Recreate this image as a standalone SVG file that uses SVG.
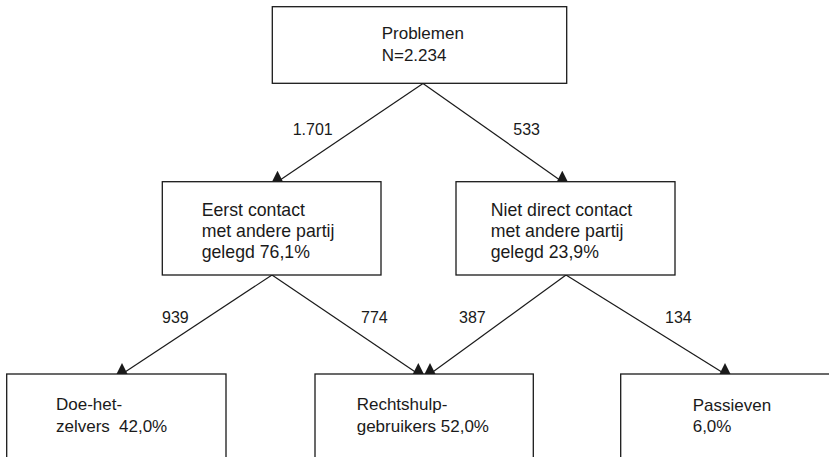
<svg xmlns="http://www.w3.org/2000/svg" width="829" height="457" viewBox="0 0 829 457">
  <style>
    .box { fill: #ffffff; stroke: #1a1a1a; stroke-width: 1.3; }
    .t { font-family: "Liberation Sans", Arial, sans-serif; fill: #1a1a1a; }
    .t17 { font-size: 17px; }
    .t18 { font-size: 17.7px; }
    .lbl { font-family: "Liberation Sans", Arial, sans-serif; font-size: 16px; fill: #1a1a1a; }
    .con { stroke: #1a1a1a; stroke-width: 1.2; fill: none; marker-end: url(#tri); }
  </style>
  <defs>
    <marker id="tri" viewBox="0 0 12 12" markerWidth="12" markerHeight="12" refX="6" refY="11" orient="0" markerUnits="userSpaceOnUse">
      <path d="M6,0 L11.5,11 L0.5,11 Z" fill="#1a1a1a"/>
    </marker>
  </defs>
  <rect width="829" height="457" fill="#ffffff"/>

  <g id="connectors">
    <line class="con" x1="423" y1="83.5" x2="277.5" y2="181.7"/>
    <line class="con" x1="423" y1="83.5" x2="562.3" y2="181.7"/>
    <line class="con" x1="272" y1="275" x2="122" y2="374"/>
    <line class="con" x1="272" y1="275" x2="418.3" y2="374"/>
    <line class="con" x1="566" y1="275" x2="430" y2="374"/>
    <line class="con" x1="566" y1="275" x2="725" y2="374"/>
    <text class="lbl" x="292.7" y="135">1.701</text>
    <text class="lbl" x="513.3" y="135">533</text>
    <text class="lbl" x="162" y="322.7">939</text>
    <text class="lbl" x="361" y="322.7">774</text>
    <text class="lbl" x="459" y="322.7">387</text>
    <text class="lbl" x="665" y="322.7">134</text>
  </g>

  <g id="problemen">
    <rect class="box" x="272.3" y="6.7" width="294.4" height="76.6"/>
    <text class="t t17" x="381.7" y="39.3">Problemen</text>
    <text class="t t17" x="381.7" y="60.7">N=2.234</text>
  </g>

  <g id="eerst-contact">
    <rect class="box" x="162.3" y="181.7" width="218.7" height="93.3"/>
    <text class="t t18" x="201.7" y="215.7">Eerst contact</text>
    <text class="t t18" x="201.7" y="236.9">met andere partij</text>
    <text class="t t18" x="201.7" y="258.3">gelegd 76,1%</text>
  </g>

  <g id="niet-direct-contact">
    <rect class="box" x="456" y="181.7" width="219" height="93.3"/>
    <text class="t t18" x="490.7" y="215.7">Niet direct contact</text>
    <text class="t t18" x="490.7" y="236.9">met andere partij</text>
    <text class="t t18" x="490.7" y="258.3">gelegd 23,9%</text>
  </g>

  <g id="doe-het-zelvers">
    <rect class="box" x="6.7" y="374" width="219.3" height="100"/>
    <text class="t t17" x="56" y="410">Doe-het-</text>
    <text class="t t17" y="431.5"><tspan x="56">zelvers</tspan> <tspan x="119">42,0%</tspan></text>
  </g>

  <g id="rechtshulpgebruikers">
    <rect class="box" x="315" y="374" width="218.3" height="100"/>
    <text class="t t17" x="356.7" y="410">Rechtshulp-</text>
    <text class="t t17" x="356.7" y="431.5">gebruikers 52,0%</text>
  </g>

  <g id="passieven">
    <rect class="box" x="620.7" y="374" width="230" height="100"/>
    <text class="t t17" x="692.7" y="410.5">Passieven</text>
    <text class="t t17" x="692.7" y="431.5">6,0%</text>
  </g>
</svg>
